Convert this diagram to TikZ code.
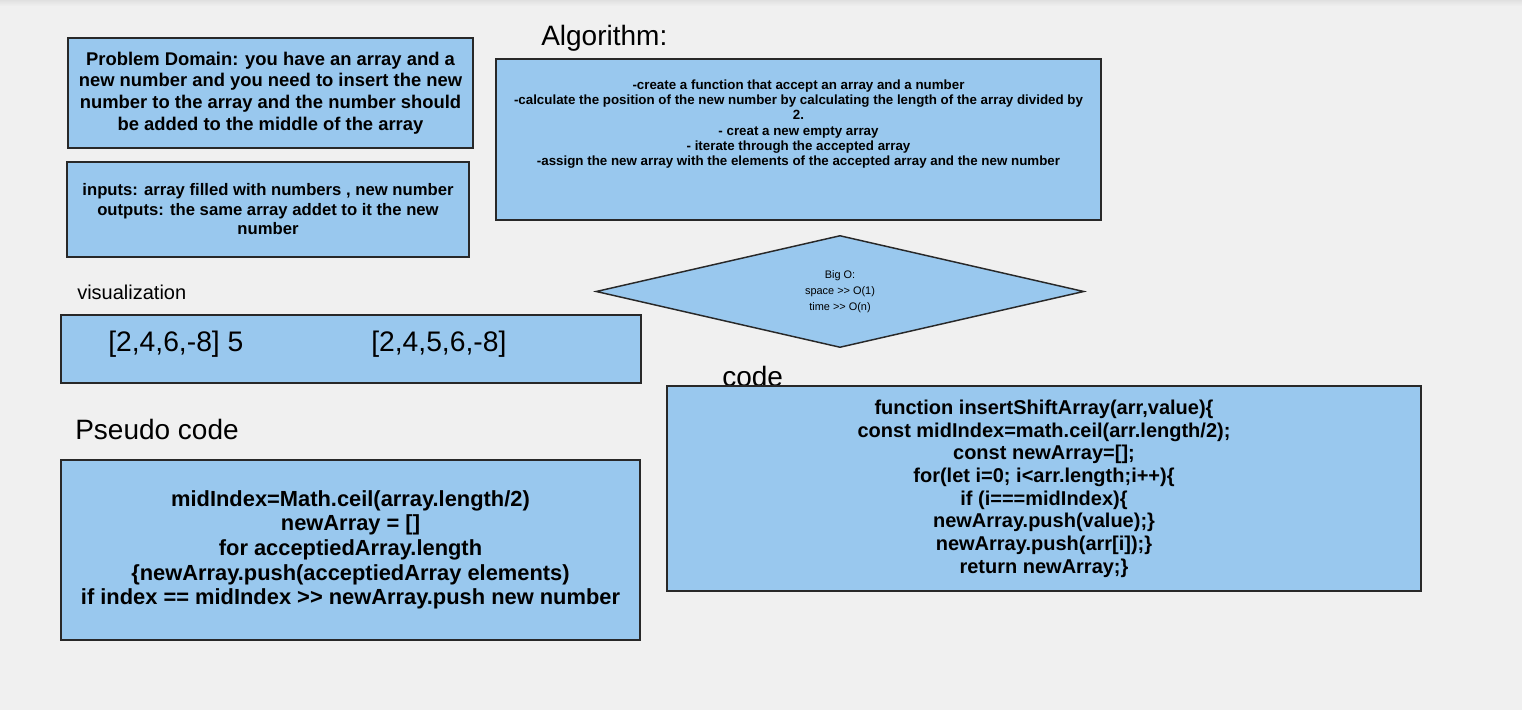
\documentclass[tikz,border=0pt]{standalone}
\usepackage{fontspec}
\setmainfont{Liberation Sans}
\usetikzlibrary{shapes.geometric}
\definecolor{cPage}{RGB}{240,240,240}
\definecolor{cFill}{RGB}{153,200,238}
\definecolor{cLine}{RGB}{40,40,40}
\newcommand{\fsz}[2]{\fontsize{#1}{#2}\selectfont}
\tikzset{
	blkbox/.style={draw=cLine, line width=1.1pt, fill=cFill, inner sep=0pt,
		align=center},
	bigo/.style={draw=cLine, line width=1.1pt, fill=cFill, diamond, inner sep=0pt,
		align=center, font=\fsz{8.2}{12}},
	ttl/.style={anchor=west, inner sep=0pt, font=\fsz{21}{25}},
	arrtxt/.style={anchor=west, inner sep=0pt, font=\fsz{21.2}{25}},
}

\begin{document}
\begin{tikzpicture}[x=0.75pt,y=-0.75pt]
	\fill[cPage] (0,0) rectangle (1522,710);
	\shade[top color=black!12, bottom color=cPage] (0,0) rectangle (1522,6);
	\useasboundingbox (0,0) rectangle (1522,710);
	\node[blkbox, minimum width=303.75pt, minimum height=82.5pt,
		font=\bfseries\fsz{13.8}{16.3}] (domain) at (270.5,93)
		{Problem Domain: you have an array and a\\new number and you need to insert the new\\number to the array and the number should\\be added to the middle of the array};
	\node[blkbox, minimum width=301.5pt, minimum height=71.25pt,
		font=\bfseries\fsz{12.5}{14.6}] (inout) at (268,209.5)
		{inputs: array filled with numbers , new number\\outputs: the same array addet to it the new\\number};
	\node[ttl] (algottl) at (541,38) {Algorithm:};
	\node[blkbox, minimum width=453.75pt, minimum height=120.75pt] (algo) at (798.5,139.5) {};
	\node[align=center, inner sep=0pt, font=\bfseries\fsz{10}{11.4}] (algotxt) at (798.5,124)
		{-create a function that accept an array and a number\\-calculate the position of the new number by calculating the length of the array divided by\\2.\\- creat a new empty array\\- iterate through the accepted array\\-assign the new array with the elements of the accepted array and the new number};
	\node[bigo, minimum width=366pt, minimum height=80.25pt] (bigO) at (840,291.5)
		{Big O:\\space >{}> O(1)\\time >{}> O(n)};
	\node[ttl, font=\fsz{15}{18}] (visttl) at (77,292) {visualization};
	\node[blkbox, minimum width=435pt, minimum height=51pt] (vis) at (351,349) {};
	\node[arrtxt] (arrin) at (108,344) {[2,4,6,-8] 5};
	\node[arrtxt] (arrout) at (371,344) {[2,4,5,6,-8]};
	\node[ttl] (pseudottl) at (75,429) {Pseudo code};
	\node[blkbox, minimum width=434.25pt, minimum height=135pt,
		font=\bfseries\fsz{16.4}{18.5}] (pseudo) at (350.5,550)
		{midIndex=Math.ceil(array.length/2)\\newArray = []\\for acceptiedArray.length\\\{newArray.push(acceptiedArray elements)\\if index == midIndex >{}> newArray.push new number};
	\node[ttl] (codettl) at (722,376) {code};
	\node[blkbox, minimum width=565.5pt, minimum height=153.75pt,
		font=\bfseries\fsz{15}{17}] (code) at (1044,488.5)
		{function insertShiftArray(arr,value)\{\\const midIndex=math.ceil(arr.length/2);\\const newArray=[];\\for(let i=0; i<arr.length;i++)\{\\if (i===midIndex)\{\\newArray.push(value);\}\\newArray.push(arr[i]);\}\\return newArray;\}};
\end{tikzpicture}
\end{document}
